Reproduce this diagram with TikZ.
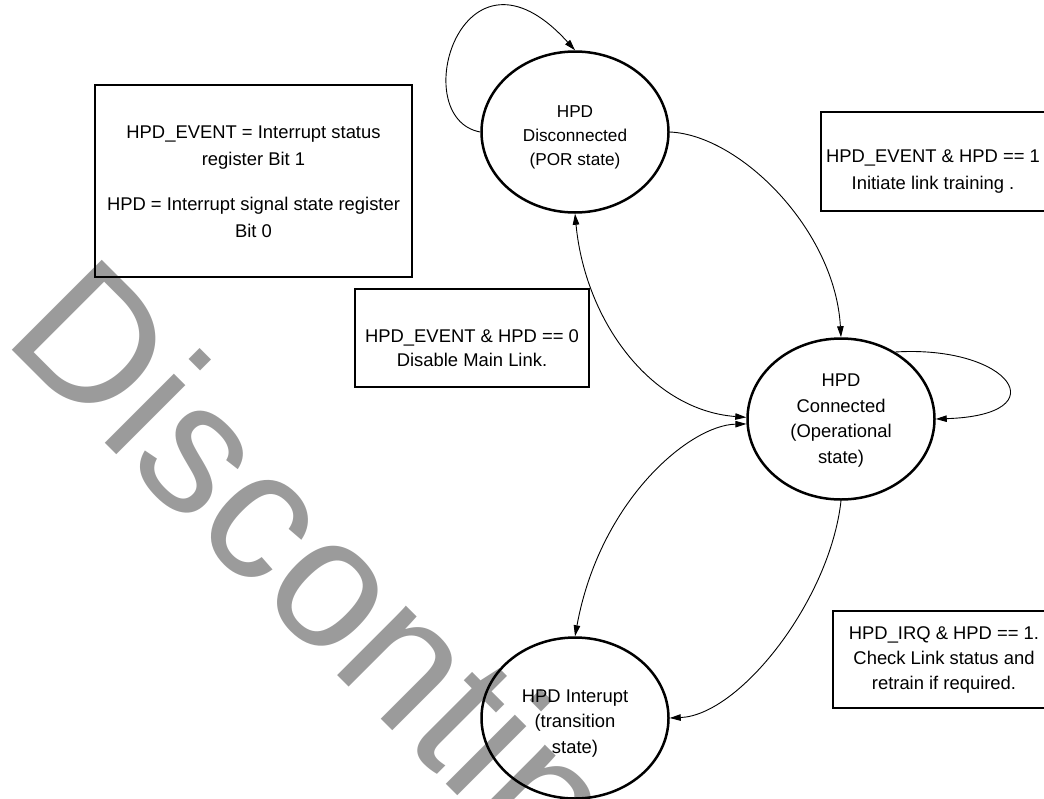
\documentclass[tikz,border=0pt]{standalone}
\usepackage{fontspec}
\setmainfont{Liberation Sans}
\usetikzlibrary{shapes.geometric,arrows.meta}
\definecolor{wmgray}{RGB}{155,155,155}
% strut that lowers a centred text block a little
\newcommand{\lowerby}[1]{\rule{0pt}{\dimexpr 13pt+2\dimexpr #1\relax\relax}}
\begin{document}
\begin{tikzpicture}[x=1pt,y=-1pt,
  state/.style={ellipse,draw,line width=2.5pt,minimum width=187pt,minimum height=161pt,
    inner sep=0pt,align=center,font=\fontsize{18.4}{25.5}\selectfont},
  note/.style={rectangle,draw,line width=1.8pt,inner sep=0pt,align=center,
    font=\fontsize{18.4}{27}\selectfont},
  link/.style={line width=0.9pt,-{Triangle[length=11pt,width=6.5pt]}},
  twoway/.style={line width=0.9pt,{Triangle[length=11pt,width=6.5pt]}-{Triangle[length=11pt,width=6.5pt]}}
]
\useasboundingbox (0,0) rectangle (1044,798);
\clip (0,0) rectangle (1044,798);

% watermark behind everything
\node[anchor=base west,rotate=-45,inner sep=0pt,text=wmgray,
  font=\fontsize{185}{185}\selectfont] (wm) at (1.7,339.7) {Discontinued};

% states
\node[state,font=\fontsize{17.2}{24}\selectfont] (dis) at (575,132)
  {\lowerby{5pt}HPD\\Disconnected\\(POR state)};
\node[state] (con) at (841,419) {\lowerby{1.5pt}HPD\\Connected\\(Operational\\state)};
\node[state] (irq) at (575,718) {\lowerby{5pt}HPD Interupt\\(transition\\state)};

% notes
\node[note,minimum width=317pt,minimum height=192pt] (legend) at (253.5,181)
  {\lowerby{1pt}HPD\_EVENT = Interrupt status\\register Bit 1\\[18pt]HPD = Interrupt signal state register\\Bit 0};
\node[note,minimum width=234pt,minimum height=98pt,font=\fontsize{18.4}{24}\selectfont] (down) at (472,338)
  {\lowerby{10pt}HPD\_EVENT \& HPD == 0\\Disable Main Link.};
\node[note,minimum width=224pt,minimum height=99pt] (up) at (933,161.5)
  {\lowerby{10pt}HPD\_EVENT \& HPD == 1\\Initiate link training .};
\node[note,minimum width=222pt,minimum height=97pt,font=\fontsize{18.4}{25}\selectfont] (retrain) at (944,659.5)
  {HPD\_IRQ \& HPD == 1.\\Check Link status and\\retrain if required.};

% transitions
\draw[link] (dis.west) .. controls (405,118) and (462,-75) .. (dis.north);
\draw[link] (dis.east) .. controls (740,135) and (835,230) .. (con.north);
\draw[twoway] (dis.south) .. controls (585,320) and (650,410) .. (con.179);
\draw[twoway] (con.183) .. controls (690,425) and (600,500) .. (irq.north);
\draw[link] (con.51) .. controls (1010,345) and (1060,415) .. (con.east);
\draw[link] (con.south) .. controls (830,600) and (740,715) .. (irq.east);
\end{tikzpicture}
\end{document}
